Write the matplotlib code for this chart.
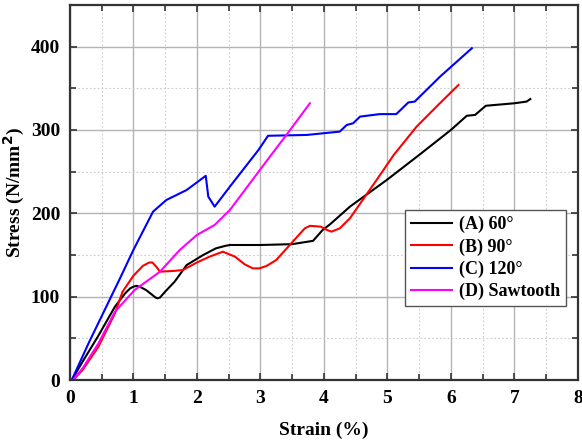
import numpy as np
import matplotlib
matplotlib.use('Agg')
import matplotlib.pyplot as plt
from matplotlib.ticker import MultipleLocator

# Courbes contrainte-déformation
strain_a = [0.03, 0.2, 0.44, 0.71, 0.87, 0.95, 1.0, 1.05, 1.1, 1.2, 1.3, 1.35, 1.38, 1.42, 1.5,
            1.65, 1.84, 2.1, 2.3, 2.45, 2.52, 3.0, 3.5, 3.83, 3.98, 4.1, 4.41, 4.99, 5.5, 6.0,
            6.25, 6.38, 6.55, 7.0, 7.19, 7.25]
stress_a = [0, 22, 52, 88, 104, 110, 112, 113, 112, 108, 102, 99, 98, 99, 106,
            118, 138, 150, 158, 161, 162, 162, 163, 167, 180, 187, 208, 240, 270, 300,
            317, 318, 329, 332, 334, 337]

strain_b = [0.05, 0.2, 0.45, 0.71, 0.83, 1.0, 1.15, 1.25, 1.3, 1.36, 1.42, 1.65, 1.78, 2.0,
            2.2, 2.41, 2.6, 2.75, 2.88, 2.99, 3.1, 3.25, 3.51, 3.7, 3.78, 3.95, 4.05, 4.12,
            4.25, 4.41, 4.83, 5.1, 5.46, 5.8, 6.12]
stress_b = [0, 12, 40, 80, 106, 125, 137, 141, 141, 136, 130, 131, 132, 141,
            148, 154, 148, 139, 134, 134, 137, 144, 166, 182, 185, 184, 180, 178,
            182, 194, 240, 270, 304, 330, 354]

strain_c = [0.03, 0.3, 0.79, 1.0, 1.31, 1.52, 1.84, 2.14, 2.18, 2.28, 2.52, 2.97, 3.05, 3.12,
            3.73, 4.25, 4.36, 4.46, 4.57, 4.88, 5.14, 5.33, 5.43, 5.83, 6.33]
stress_c = [0, 45, 122, 156, 202, 216, 228, 245, 220, 208, 232, 276, 285, 293,
            294, 298, 306, 308, 316, 319, 319, 333, 334, 364, 398]

strain_d = [0.05, 0.2, 0.45, 0.71, 1.02, 1.42, 1.73, 2.0, 2.28, 2.52, 3.15, 3.41, 3.78]
stress_d = [0, 14, 44, 82, 108, 130, 156, 174, 186, 204, 268, 294, 332]

labels = ["(A) 60°", "(B) 90°", "(C) 120°", "(D) Sawtooth"]
colors = ["black", "#ff0000", "#0000ff", "#ff00ff"]

plt.rcParams['font.family'] = ['Liberation Serif', 'DejaVu Serif']
plt.rcParams['font.weight'] = 'bold'

fig = plt.figure(figsize=(5.82, 4.44), dpi=100)
ax = fig.add_axes([0.120, 0.144, 0.873, 0.845])

series = [(strain_a, stress_a), (strain_b, stress_b), (strain_c, stress_c), (strain_d, stress_d)]
for (x, y), lab, c in zip(series, labels, colors):
    ax.plot(x, y, color=c, linewidth=1.5, label=lab)

ax.set_xlim(0, 8)
ax.set_ylim(0, 450)
ax.xaxis.set_major_locator(MultipleLocator(1))
ax.xaxis.set_minor_locator(MultipleLocator(0.5))
ax.yaxis.set_major_locator(MultipleLocator(100))
ax.yaxis.set_minor_locator(MultipleLocator(50))

ax.grid(True, which="major", color="#b4b4b4", linewidth=1.0)
ax.grid(True, which="minor", color="#cccccc", linewidth=0.8, linestyle=(0, (1.5, 2)))
ax.set_axisbelow(True)

ax.tick_params(which="both", direction="in", top=True, right=True, labelsize=14,
               color="#333333", width=1.2)
ax.tick_params(which="major", length=5, pad=7)
ax.tick_params(which="minor", length=4)
for s in ax.spines.values():
    s.set_linewidth(1.6)
    s.set_color("#333333")

ax.set_xlabel("Strain (%)", fontsize=14, fontweight="bold", labelpad=11)
ax.set_ylabel("Stress (N/mm$^\\mathbf{2}$)", fontsize=14, fontweight="bold", labelpad=3)

leg = ax.legend(loc="upper left", bbox_to_anchor=(0.66, 0.452), fontsize=13,
                fancybox=False, framealpha=1, edgecolor="#555555", handlelength=2.3,
                borderpad=0.3, labelspacing=0.28, handletextpad=0.4, borderaxespad=0)
leg.get_frame().set_linewidth(1.0)

plt.savefig("out.png", dpi=100)
plt.close()
